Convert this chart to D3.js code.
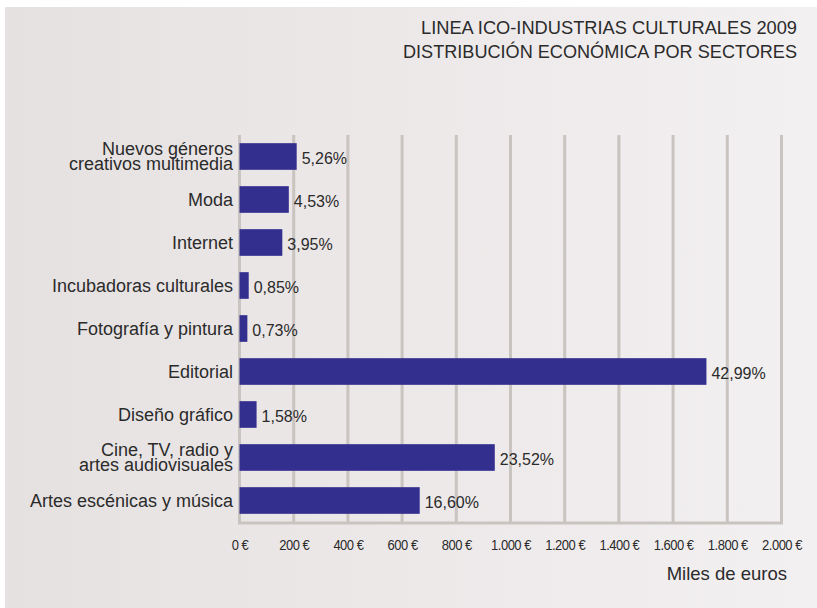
<!DOCTYPE html>
<html>
<head>
<meta charset="utf-8">
<script src="https://cdn.jsdelivr.net/npm/d3@7"></script>
<style>
  body { margin: 0; background: #fff; }
  text { font-family: "Liberation Sans", Arial, sans-serif; fill: #2b2b2b; }
</style>
</head>
<body>
<svg id="chart" width="817" height="608"></svg>
<script>
// data (miles de euros)
var categories = [
  ["Nuevos géneros", "creativos multimedia"],
  ["Moda"],
  ["Internet"],
  ["Incubadoras culturales"],
  ["Fotografía y pintura"],
  ["Editorial"],
  ["Diseño gráfico"],
  ["Cine, TV, radio y", "artes audiovisuales"],
  ["Artes escénicas y música"]
];
var values = [211, 182, 158, 34, 29, 1723, 63, 942, 665];
var percentLabels = ["5,26%", "4,53%", "3,95%", "0,85%", "0,73%", "42,99%", "1,58%", "23,52%", "16,60%"];
var tickValues = [0, 200, 400, 600, 800, 1000, 1200, 1400, 1600, 1800, 2000];
var titleLines = ["LINEA ICO-INDUSTRIAS CULTURALES 2009", "DISTRIBUCIÓN ECONÓMICA POR SECTORES"];

var svg = d3.select("#chart");

var defs = svg.append("defs");
var grad = defs.append("linearGradient").attr("id", "bg").attr("x1", "0").attr("x2", "1").attr("y1", "0").attr("y2", "0");
grad.append("stop").attr("offset", "0").attr("stop-color", "#e6e1e1");
grad.append("stop").attr("offset", "1").attr("stop-color", "#f3f0f1");

svg.append("rect")
  .attr("x", 5).attr("y", 7)
  .attr("width", 812).attr("height", 601)
  .style("fill", "url(#bg)");

var x = d3.scaleLinear().domain([0, 2000]).range([239.5, 781.5]);
var y = d3.scaleBand().domain(d3.range(categories.length)).range([135, 522]).paddingInner(0.38).paddingOuter(0.19);

// grid lines
svg.append("g").selectAll("line")
  .data(tickValues)
  .enter().append("line")
  .attr("x1", function(d) { return x(d); })
  .attr("x2", function(d) { return x(d); })
  .attr("y1", 135)
  .attr("y2", 523)
  .style("stroke", "#c9c4c0")
  .style("stroke-width", "3px");

svg.append("line")
  .attr("x1", x(0) - 1.5).attr("x2", x(2000) + 1.5)
  .attr("y1", 523).attr("y2", 523)
  .style("stroke", "#c9c4c0")
  .style("stroke-width", "3px");

// bars
svg.append("g").selectAll("rect")
  .data(values)
  .enter().append("rect")
  .attr("x", x(0))
  .attr("y", function(d, i) { return y(i); })
  .attr("width", function(d) { return x(d) - x(0); })
  .attr("height", y.bandwidth())
  .style("fill", "#332f8e");

// value labels
svg.append("g").selectAll("text")
  .data(values)
  .enter().append("text")
  .attr("x", function(d) { return x(d) + 5; })
  .attr("y", function(d, i) { return y(i) + y.bandwidth() / 2 + 7.5; })
  .style("font-size", "16px")
  .text(function(d, i) { return percentLabels[i]; });

// category labels
var cat = svg.append("g").selectAll("text")
  .data(categories)
  .enter().append("text")
  .attr("text-anchor", "end")
  .style("font-size", "18px")
  .attr("y", function(d, i) { return y(i) + y.bandwidth() / 2 + 6.5 - (d.length - 1) * 8; });

cat.selectAll("tspan")
  .data(function(d) { return d; })
  .enter().append("tspan")
  .attr("x", 233)
  .attr("dy", function(d, j) { return j ? 15 : 0; })
  .text(function(d) { return d; });

// x axis tick labels
var xAxis = d3.axisBottom(x)
  .tickValues(tickValues)
  .tickSize(0)
  .tickFormat(function(d) { return d3.format(",")(d).replace(/,/g, ".") + " €"; });

var gx = svg.append("g")
  .attr("transform", "translate(0,536)")
  .call(xAxis);
gx.select(".domain").remove();
gx.selectAll("text")
  .attr("transform", "scale(0.84,1)")
  .style("font-family", "'Liberation Sans', Arial, sans-serif")
  .style("font-size", "15.5px")
  .style("letter-spacing", "-0.6px")
  .style("fill", "#2b2b2b");

svg.append("text")
  .attr("x", 787).attr("y", 580)
  .attr("text-anchor", "end")
  .style("font-size", "18.5px")
  .text("Miles de euros");

// title
svg.append("g").selectAll("text")
  .data(titleLines)
  .enter().append("text")
  .attr("x", 797)
  .attr("y", function(d, i) { return 34 + i * 24; })
  .attr("text-anchor", "end")
  .attr("textLength", function(d, i) { return i ? 394 : 376; })
  .attr("lengthAdjust", "spacingAndGlyphs")
  .style("font-size", "17.5px")
  .text(function(d) { return d; });
</script>
</body>
</html>
